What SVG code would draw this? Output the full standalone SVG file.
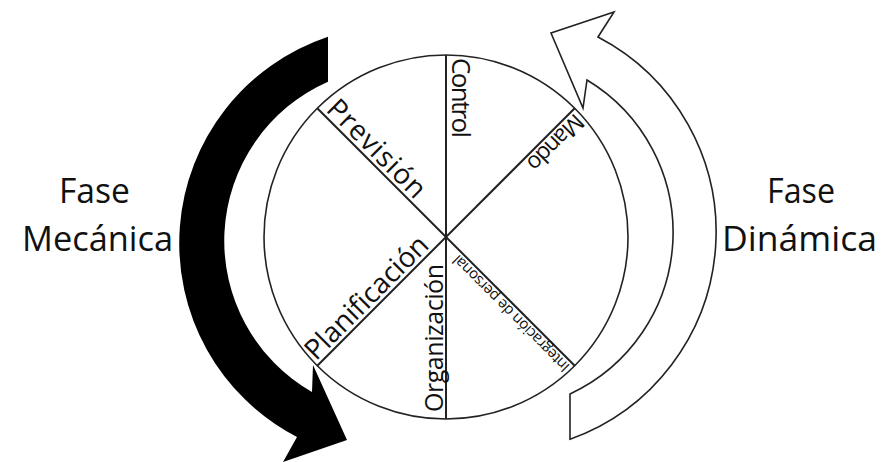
<svg xmlns="http://www.w3.org/2000/svg" width="883" height="462" viewBox="0 0 883 462">
<style>
.t{font-family:"Open Sans","Liberation Sans",sans-serif;fill:#111}
.big{font-size:35px}
.ln{stroke:#222;stroke-width:2;fill:none}
.circ{stroke:#222;stroke-width:1.6;fill:#fff}
</style>
<rect width="883" height="462" fill="#fff"/>
<g id="connectors">
  <path id="flecha-mecanica" d="M328,36.7 A218,218 0 0 0 297,437 L283,462 L347,440 L313,365 L312,392 A174,174 0 0 1 328,81.7 Z" fill="#000"/>
  <path id="flecha-dinamica" d="M570,393.9 A178,178 0 0 0 587,80 L583,108 L551,33 L614,12 L598,37 A220,220 0 0 1 570,439.2 Z" fill="#fff" stroke="#222" stroke-width="1.6" stroke-linejoin="miter"/>
</g>
<g id="ciclo">
  <circle class="circ" cx="446" cy="237" r="182"/>
  <line class="ln" x1="446" y1="55" x2="446" y2="419"/>
  <line class="ln" x1="317.3" y1="108.3" x2="574.7" y2="365.7"/>
  <line class="ln" x1="574.7" y1="108.3" x2="317.3" y2="365.7"/>
</g>
<g id="prevision" transform="translate(317.3,108.3) rotate(45)">
  <text class="t" x="7" y="-4" font-size="28" textLength="127" lengthAdjust="spacing">Previsión</text>
</g>
<g id="control" transform="translate(446,55) rotate(90)">
  <text class="t" x="3" y="-6" font-size="26" textLength="80" lengthAdjust="spacing">Control</text>
</g>
<g id="mando" transform="translate(574.7,108.3) rotate(135)">
  <text class="t" x="3" y="-3" font-size="23" textLength="70" lengthAdjust="spacing">Mando</text>
</g>
<g id="integracion" transform="translate(574.7,365.7) rotate(225)">
  <text class="t" x="3" y="-3" font-size="15" textLength="158" lengthAdjust="spacing">Integración de personal</text>
</g>
<g id="organizacion" transform="translate(446,419) rotate(-90)">
  <text class="t" x="7" y="-3.5" font-size="25" textLength="148" lengthAdjust="spacing">Organización</text>
</g>
<g id="planificacion" transform="translate(317.3,365.7) rotate(-45)">
  <text class="t" x="2" y="-4" font-size="28" textLength="162" lengthAdjust="spacing">Planificación</text>
</g>
<g id="fase-mecanica">
  <text class="t big" x="59" y="203" textLength="71" lengthAdjust="spacingAndGlyphs">Fase</text>
  <text class="t big" x="22" y="251" textLength="151" lengthAdjust="spacingAndGlyphs">Mecánica</text>
</g>
<g id="fase-dinamica">
  <text class="t big" x="767" y="203" textLength="68" lengthAdjust="spacingAndGlyphs">Fase</text>
  <text class="t big" x="722" y="251" textLength="155" lengthAdjust="spacingAndGlyphs">Dinámica</text>
</g>
</svg>
